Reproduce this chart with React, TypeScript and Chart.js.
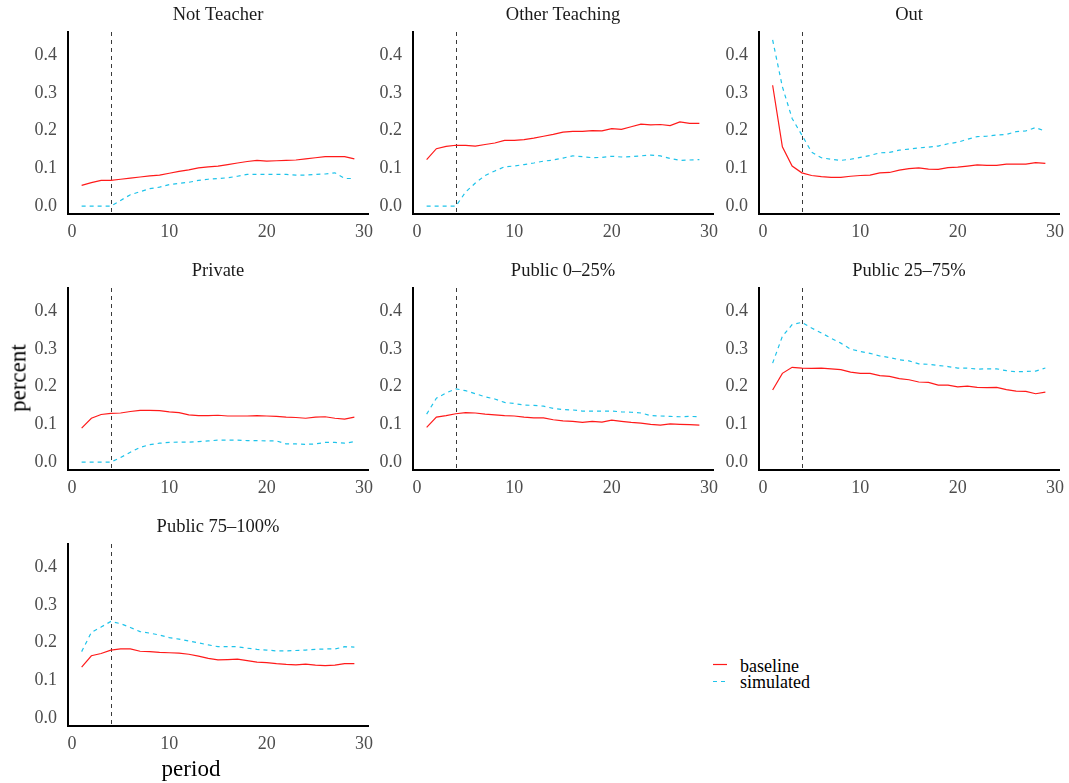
import React, { useEffect, useRef } from "react";
import { Chart, registerables } from "chart.js";

Chart.register(...registerables);

// ---------- data ----------
const PERIODS = [1, 2, 3, 4, 5, 6, 7, 8, 9, 10, 11, 12, 13, 14, 15, 16, 17, 18, 19, 20, 21, 22, 23, 24, 25, 26, 27, 28, 29];
const X_TICKS = [0, 10, 20, 30];
const Y_TICKS = [0, 0.1, 0.2, 0.3, 0.4];
const X_MIN = -0.4;
const X_MAX = 30.4;
const Y_MIN = -0.021;
const Y_MAX = 0.461;
const VLINE_X = 4;
const SERIES_NAMES = ["baseline", "simulated"];

const NOT_TEACHER_BASELINE = [0.055, 0.062, 0.068, 0.068, 0.071, 0.074, 0.077, 0.080, 0.082, 0.087, 0.092, 0.096, 0.101, 0.104, 0.106, 0.110, 0.114, 0.118, 0.121, 0.119, 0.120, 0.121, 0.122, 0.125, 0.128, 0.131, 0.131, 0.131, 0.125];
const NOT_TEACHER_SIMULATED = [0, 0, 0, 0, 0.015, 0.030, 0.038, 0.046, 0.050, 0.057, 0.060, 0.063, 0.068, 0.071, 0.073, 0.075, 0.079, 0.084, 0.084, 0.084, 0.084, 0.084, 0.082, 0.082, 0.084, 0.085, 0.088, 0.073, 0.073];

const OTHER_TEACHING_BASELINE = [0.123, 0.152, 0.158, 0.161, 0.161, 0.159, 0.163, 0.167, 0.174, 0.174, 0.176, 0.180, 0.185, 0.190, 0.196, 0.198, 0.198, 0.200, 0.199, 0.205, 0.203, 0.210, 0.217, 0.215, 0.216, 0.213, 0.223, 0.219, 0.219];
const OTHER_TEACHING_SIMULATED = [0, 0, 0, 0, 0.037, 0.061, 0.081, 0.093, 0.104, 0.106, 0.110, 0.114, 0.119, 0.122, 0.127, 0.133, 0.131, 0.128, 0.129, 0.132, 0.130, 0.131, 0.133, 0.135, 0.133, 0.126, 0.121, 0.122, 0.123];

const OUT_BASELINE = [0.320, 0.157, 0.106, 0.088, 0.081, 0.078, 0.076, 0.076, 0.079, 0.081, 0.082, 0.088, 0.089, 0.095, 0.099, 0.101, 0.098, 0.097, 0.102, 0.103, 0.106, 0.109, 0.108, 0.108, 0.111, 0.111, 0.111, 0.115, 0.113];
const OUT_SIMULATED = [0.440, 0.316, 0.232, 0.188, 0.143, 0.128, 0.124, 0.121, 0.124, 0.129, 0.134, 0.141, 0.142, 0.148, 0.151, 0.154, 0.156, 0.159, 0.165, 0.169, 0.177, 0.184, 0.185, 0.188, 0.190, 0.197, 0.199, 0.208, 0.198];

const PRIVATE_BASELINE = [0.090, 0.116, 0.126, 0.129, 0.130, 0.134, 0.137, 0.137, 0.136, 0.133, 0.131, 0.125, 0.123, 0.123, 0.124, 0.122, 0.122, 0.122, 0.123, 0.122, 0.121, 0.119, 0.118, 0.116, 0.119, 0.120, 0.116, 0.114, 0.119];
const PRIVATE_SIMULATED = [0, 0, 0, 0, 0.012, 0.026, 0.039, 0.046, 0.050, 0.052, 0.053, 0.053, 0.054, 0.056, 0.058, 0.058, 0.058, 0.057, 0.057, 0.056, 0.056, 0.048, 0.048, 0.047, 0.048, 0.052, 0.052, 0.050, 0.054];

const PUBLIC_0_25_BASELINE = [0.092, 0.119, 0.123, 0.128, 0.131, 0.130, 0.127, 0.125, 0.123, 0.122, 0.119, 0.117, 0.117, 0.112, 0.109, 0.108, 0.105, 0.108, 0.106, 0.111, 0.108, 0.105, 0.103, 0.100, 0.098, 0.101, 0.100, 0.099, 0.098];
const PUBLIC_0_25_SIMULATED = [0.127, 0.169, 0.183, 0.194, 0.189, 0.181, 0.173, 0.167, 0.158, 0.155, 0.151, 0.150, 0.148, 0.142, 0.139, 0.138, 0.135, 0.135, 0.135, 0.135, 0.133, 0.132, 0.130, 0.123, 0.122, 0.121, 0.120, 0.121, 0.120];

const PUBLIC_25_75_BASELINE = [0.191, 0.235, 0.251, 0.249, 0.248, 0.249, 0.247, 0.245, 0.238, 0.235, 0.235, 0.229, 0.227, 0.221, 0.218, 0.212, 0.211, 0.204, 0.204, 0.199, 0.201, 0.198, 0.197, 0.198, 0.192, 0.188, 0.187, 0.181, 0.185];
const PUBLIC_25_75_SIMULATED = [0.262, 0.333, 0.364, 0.370, 0.355, 0.342, 0.328, 0.315, 0.299, 0.293, 0.288, 0.281, 0.277, 0.271, 0.268, 0.260, 0.259, 0.256, 0.253, 0.249, 0.249, 0.246, 0.247, 0.247, 0.242, 0.239, 0.240, 0.241, 0.249];

const PUBLIC_75_100_BASELINE = [0.135, 0.165, 0.171, 0.180, 0.183, 0.183, 0.177, 0.176, 0.174, 0.173, 0.172, 0.169, 0.164, 0.158, 0.154, 0.155, 0.156, 0.152, 0.148, 0.147, 0.144, 0.142, 0.141, 0.143, 0.140, 0.139, 0.140, 0.144, 0.144];
const PUBLIC_75_100_SIMULATED = [0.176, 0.227, 0.241, 0.256, 0.250, 0.240, 0.229, 0.225, 0.220, 0.213, 0.209, 0.204, 0.199, 0.194, 0.189, 0.189, 0.189, 0.185, 0.182, 0.180, 0.178, 0.178, 0.179, 0.180, 0.182, 0.183, 0.183, 0.189, 0.188];

const PANEL_TITLES = ["Not Teacher", "Other Teaching", "Out", "Private", "Public 0\u201325%", "Public 25\u201375%", "Public 75\u2013100%"];
const PANEL_BASELINES = [NOT_TEACHER_BASELINE, OTHER_TEACHING_BASELINE, OUT_BASELINE, PRIVATE_BASELINE, PUBLIC_0_25_BASELINE, PUBLIC_25_75_BASELINE, PUBLIC_75_100_BASELINE];
const PANEL_SIMULATED = [NOT_TEACHER_SIMULATED, OTHER_TEACHING_SIMULATED, OUT_SIMULATED, PRIVATE_SIMULATED, PUBLIC_0_25_SIMULATED, PUBLIC_25_75_SIMULATED, PUBLIC_75_100_SIMULATED];

// ---------- layout / style ----------
const FONT = "'Liberation Serif', 'DejaVu Serif', serif";
const RED = "#FF1A1A";
const CYAN = "#1EC3EA";
const COL_LEFTS = [68, 413, 759];
const ROW_TOPS = [32, 288, 544];
const PLOT_W = 300;
const PLOT_H = 182;
const Y_AXIS_W = 62;
const TOP_PAD = 34;
const X_AXIS_H = 32;
const RIGHT_PAD = 20;

const decorPlugin = (title: string) => ({
  id: "decor" + title.replace(/[^A-Za-z0-9]/g, ""),
  beforeDatasetsDraw(chart: any) {
    const { ctx, chartArea, scales } = chart;
    const x = Math.round(scales.x.getPixelForValue(VLINE_X)) + 0.5;
    ctx.save();
    ctx.strokeStyle = "#3a3a3a";
    ctx.lineWidth = 1;
    ctx.setLineDash([4, 4]);
    ctx.beginPath();
    ctx.moveTo(x, chartArea.top);
    ctx.lineTo(x, chartArea.bottom);
    ctx.stroke();
    ctx.restore();
  },
  afterDraw(chart: any) {
    const { ctx, chartArea } = chart;
    ctx.save();
    ctx.font = `18.5px ${FONT}`;
    ctx.fillStyle = "#1a1a1a";
    ctx.textAlign = "center";
    ctx.textBaseline = "middle";
    ctx.fillText(title, (chartArea.left + chartArea.right) / 2, chartArea.top - 17);
    ctx.restore();
  },
});

function Panel({ index }: { index: number }) {
  const ref = useRef<HTMLCanvasElement>(null);
  const col = index % 3;
  const row = Math.floor(index / 3);
  const left = COL_LEFTS[col] - Y_AXIS_W;
  const top = ROW_TOPS[row] - TOP_PAD;
  const w = Y_AXIS_W + PLOT_W + RIGHT_PAD;
  const h = TOP_PAD + PLOT_H + X_AXIS_H;

  useEffect(() => {
    const baseline = PANEL_BASELINES[index];
    const simulated = PANEL_SIMULATED[index];
    const chart = new Chart(ref.current as HTMLCanvasElement, {
      type: "line",
      data: {
        datasets: [
          {
            label: SERIES_NAMES[0],
            data: PERIODS.map((p, i) => ({ x: p, y: baseline[i] })),
            borderColor: RED,
            borderWidth: 1.2,
            pointRadius: 0,
            fill: false,
            tension: 0,
          },
          {
            label: SERIES_NAMES[1],
            data: PERIODS.map((p, i) => ({ x: p, y: simulated[i] })),
            borderColor: CYAN,
            borderWidth: 1.2,
            borderDash: [4, 4],
            pointRadius: 0,
            fill: false,
            tension: 0,
          },
        ],
      },
      options: {
        responsive: false,
        animation: false,
        events: [],
        layout: { padding: { top: TOP_PAD, right: RIGHT_PAD, left: 0, bottom: 0 } },
        plugins: { legend: { display: false }, tooltip: { enabled: false }, title: { display: false } },
        scales: {
          x: {
            type: "linear",
            min: X_MIN,
            max: X_MAX,
            afterBuildTicks: (s: any) => {
              s.ticks = X_TICKS.map((v) => ({ value: v }));
            },
            afterFit: (s: any) => {
              s.height = X_AXIS_H;
            },
            grid: { display: false, drawTicks: false },
            border: { display: true, color: "#000000", width: 2 },
            ticks: {
              color: "#4d4d4d",
              font: { family: FONT, size: 18 },
              padding: 7,
              maxRotation: 0,
              autoSkip: false,
              callback: (v: any) => String(v),
            },
          },
          y: {
            type: "linear",
            min: Y_MIN,
            max: Y_MAX,
            afterBuildTicks: (s: any) => {
              s.ticks = Y_TICKS.map((v) => ({ value: v }));
            },
            afterFit: (s: any) => {
              s.width = Y_AXIS_W;
            },
            grid: { display: false, drawTicks: false },
            border: { display: true, color: "#000000", width: 2 },
            ticks: {
              color: "#4d4d4d",
              font: { family: FONT, size: 18 },
              padding: 11,
              autoSkip: false,
              callback: (v: any) => Number(v).toFixed(1),
            },
          },
        },
      },
      plugins: [decorPlugin(PANEL_TITLES[index])],
    });
    return () => chart.destroy();
  }, [index]);

  return (
    <canvas
      ref={ref}
      width={w}
      height={h}
      style={{ position: "absolute", left, top, width: w, height: h }}
    />
  );
}

export default function App() {
  return (
    <div
      style={{
        position: "absolute",
        left: 0,
        top: 0,
        width: 1069,
        height: 783,
        overflow: "hidden",
        background: "#ffffff",
        fontFamily: FONT,
      }}
    >
      {PANEL_TITLES.map((_, i) => (
        <Panel key={i} index={i} />
      ))}
      <div
        style={{
          position: "absolute",
          left: 18,
          top: 378,
          transform: "translate(-50%, -50%) rotate(-90deg)",
          fontSize: 23,
          lineHeight: 1,
          color: "#000",
          whiteSpace: "nowrap",
        }}
      >
        percent
      </div>
      <div
        style={{
          position: "absolute",
          left: 191,
          top: 768,
          transform: "translate(-50%, -50%)",
          fontSize: 23,
          lineHeight: 1,
          color: "#000",
          whiteSpace: "nowrap",
        }}
      >
        period
      </div>
      <svg style={{ position: "absolute", left: 710, top: 655 }} width={24} height={34}>
        <line x1={3} y1={9.5} x2={17} y2={9.5} stroke={RED} strokeWidth={1.2} />
        <line x1={3} y1={26.5} x2={17} y2={26.5} stroke={CYAN} strokeWidth={1.2} strokeDasharray="4 4" />
      </svg>
      <div style={{ position: "absolute", left: 740, top: 657, fontSize: 18, lineHeight: 1, color: "#000" }}>
        {SERIES_NAMES[0]}
      </div>
      <div style={{ position: "absolute", left: 740, top: 673, fontSize: 18, lineHeight: 1, color: "#000" }}>
        {SERIES_NAMES[1]}
      </div>
    </div>
  );
}
